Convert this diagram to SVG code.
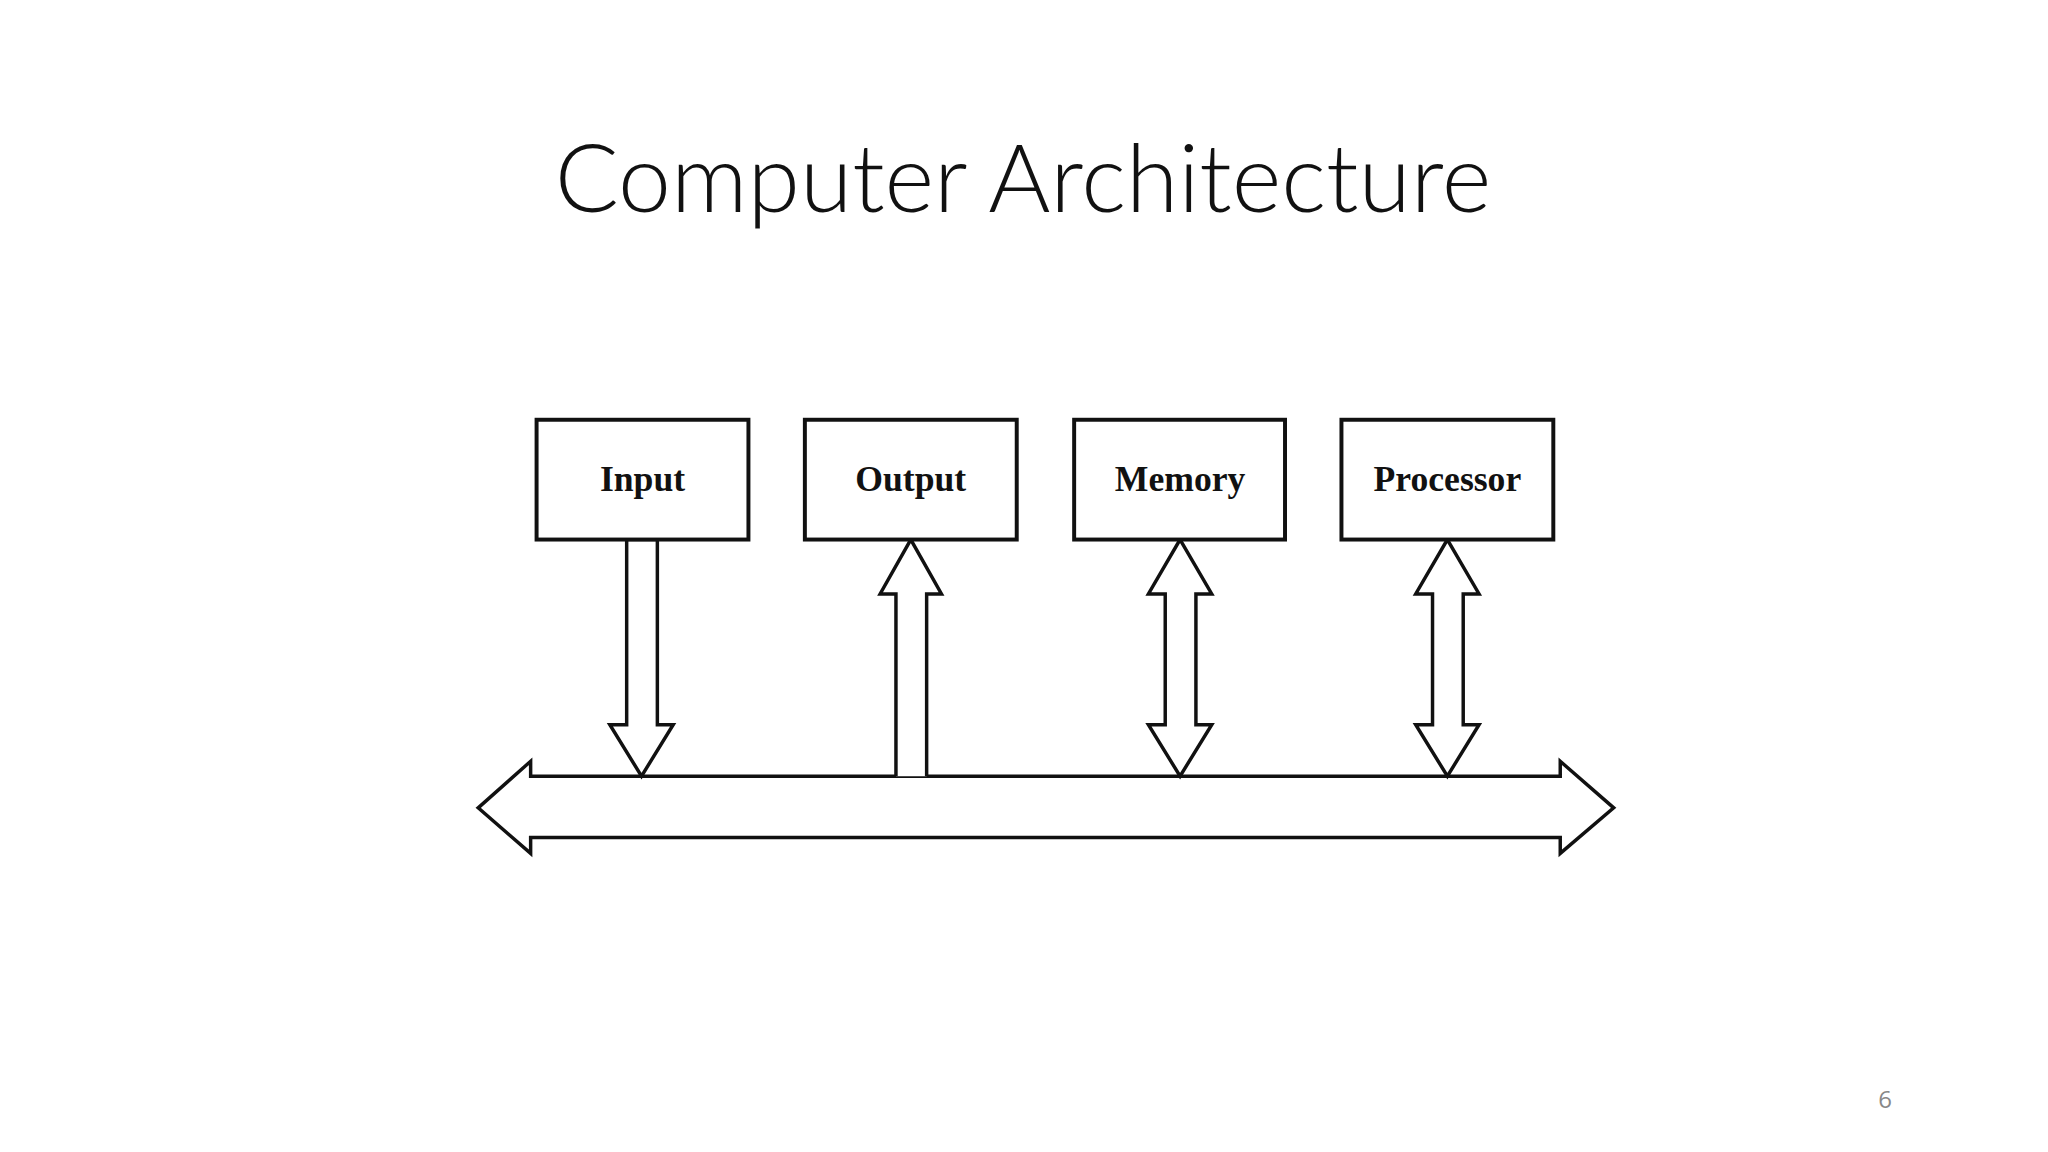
<svg xmlns="http://www.w3.org/2000/svg" width="2048" height="1152" viewBox="0 0 2048 1152">
<style>
.box{fill:#fff;stroke:#111;stroke-width:4}
.lbl{font-family:"Liberation Serif",serif;font-weight:bold;font-size:36px;fill:#111;text-anchor:middle}
.arr{fill:#fff;stroke:#111;stroke-width:3.5;stroke-linejoin:miter}
</style>
<rect width="2048" height="1152" fill="#fff"/>
<text x="1023" y="212" font-family="Lato, 'Open Sans', sans-serif" font-weight="300" font-size="95" text-anchor="middle" fill="#111">Computer Architecture</text>
<g transform="scale(0.99)">
<g id="connectors">
<path class="arr" d="M483,816 L536,769 L536,784 L1576,784 L1576,769 L1630,816 L1576,862 L1576,846 L536,846 L536,862 Z"/>
<path class="arr" d="M633,545 L664,545 L664,732 L680,732 L648,784 L616,732 L633,732 Z"/>
<path class="arr" d="M905,784 L905,600 L889,600 L920,545 L951,600 L936,600 L936,784"/>
<path class="arr" d="M1192,545 L1224,600 L1208,600 L1208,732 L1224,732 L1192,784 L1160,732 L1177,732 L1177,600 L1160,600 Z"/>
<path class="arr" d="M1462,545 L1494,600 L1478,600 L1478,732 L1494,732 L1462,784 L1430,732 L1447,732 L1447,600 L1430,600 Z"/>
</g>
<g id="input"><rect class="box" x="542" y="424" width="214" height="121"/><text class="lbl" x="649" y="496">Input</text></g>
<g id="output"><rect class="box" x="813" y="424" width="214" height="121"/><text class="lbl" x="920" y="496">Output</text></g>
<g id="memory"><rect class="box" x="1085" y="424" width="213" height="121"/><text class="lbl" x="1192" y="496">Memory</text></g>
<g id="processor"><rect class="box" x="1355" y="424" width="214" height="121"/><text class="lbl" x="1462" y="496">Processor</text></g>
</g>
<text x="1885" y="1108" font-family="'Open Sans', sans-serif" font-size="24" fill="#888" text-anchor="middle">6</text>
</svg>
